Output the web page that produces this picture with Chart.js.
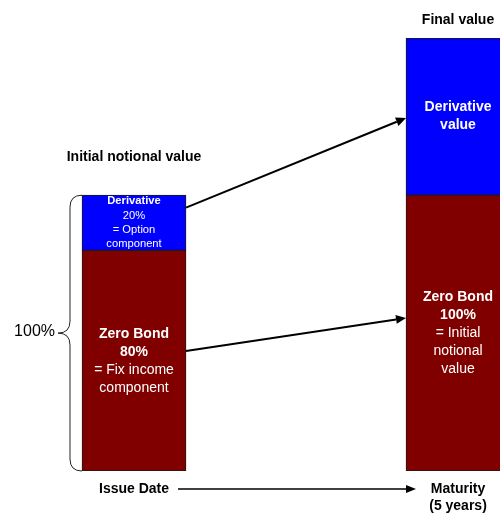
<!DOCTYPE html>
<html lang="en">
<head>
	<meta charset="utf-8">
	<title>Capital protected note</title>
	<style>
body {
	margin: 0;
	background: #fff;
}
	</style>
</head>
<body>
<canvas id="myChart" width="500" height="515"></canvas>

<script src="https://cdn.jsdelivr.net/npm/chart.js"></script>
<script>
// the two points in time
const categories = [['Issue Date'], ['Maturity', '(5 years)']];
const timePos = [0, 1];

// stacked components, in % of initial notional
const zeroBond = [80, 100];
const derivative = [20, 57];

const headings = ['Initial notional value', 'Final value'];

// text in each block; '**' = bold, {v} = the block's value
const zeroBondText = [
	['**Zero Bond', '**{v}%', '= Fix income', 'component'],
	['**Zero Bond', '**{v}%', '= Initial', 'notional', 'value']
];
const derivativeText = [
	['**Derivative', '{v}%', '= Option', 'component'],
	['**Derivative', '**value']
];

const FAMILY = '"Liberation Sans", Arial, sans-serif';
const font = (size, bold) => (bold ? 'bold ' : '') + size + 'px ' + FAMILY;

function arrow(ctx, x1, y1, x2, y2, width, len, half) {
	const a = Math.atan2(y2 - y1, x2 - x1);
	const bx = x2 - len * Math.cos(a), by = y2 - len * Math.sin(a);
	ctx.lineWidth = width;
	ctx.beginPath();
	ctx.moveTo(x1, y1);
	ctx.lineTo(bx, by);
	ctx.stroke();
	ctx.beginPath();
	ctx.moveTo(x2, y2);
	ctx.lineTo(bx + half * Math.sin(a), by - half * Math.cos(a));
	ctx.lineTo(bx - half * Math.sin(a), by + half * Math.cos(a));
	ctx.closePath();
	ctx.fill();
}

const overlay = {
	id: 'overlay',
	afterDatasetsDraw(chart) {
		const {ctx, scales: {x, y}, chartArea} = chart;
		ctx.save();
		ctx.textAlign = 'center';
		ctx.textBaseline = 'middle';

		// labels inside the blocks
		chart.data.datasets.forEach((ds, di) => {
			chart.getDatasetMeta(di).data.forEach((bar, i) => {
				const lines = ds.text[i];
				const top = Math.min(bar.y, bar.base), bot = Math.max(bar.y, bar.base);
				let k = Math.min(1, (bot - top - 6) / ((lines.length - 1) * 18 + 16));
				k = Math.max(k, 0.8);
				const step = 18 * k;
				let ly = (top + bot) / 2 - (lines.length - 1) * step / 2;
				ctx.fillStyle = '#fff';
				for (let l of lines) {
					const bold = l.startsWith('**');
					ctx.font = font(Math.round(14 * k * 10) / 10, bold);
					ctx.fillText(l.replace('**', '').replace('{v}', ds.data[i].y), bar.x, ly);
					ly += step;
				}
			});
		});

		const bars = chart.getDatasetMeta(0).data;
		const left = bars[0], right = bars[1];
		const lRight = left.x + left.width / 2;
		const rLeft = right.x - right.width / 2;

		// column headings
		ctx.fillStyle = '#000';
		ctx.font = font(14, true);
		const gaps = [38, 18];
		headings.forEach((h, i) => {
			const top = y.getPixelForValue(zeroBond[i] + derivative[i]);
			ctx.fillText(h, bars[i].x, top - gaps[i]);
		});

		// value transfer arrows
		ctx.strokeStyle = '#000';
		arrow(ctx, lRight, y.getPixelForValue(95.5), rLeft, y.getPixelForValue(128), 2, 10, 4.5);
		arrow(ctx, lRight, y.getPixelForValue(43.5), rLeft, y.getPixelForValue(55.5), 2, 10, 4.5);

		// time axis arrow
		const ty = chartArea.bottom + 18;
		arrow(ctx, x.getPixelForValue(timePos[0]) + 44, ty, x.getPixelForValue(timePos[1]) - 42, ty, 1.5, 10, 4);

		// brace over the initial notional
		const bx = left.x - left.width / 2;
		const top = y.getPixelForValue(zeroBond[0] + derivative[0]);
		const bot = y.getPixelForValue(0);
		const mid = (top + bot) / 2, mx = bx - 12, tx = bx - 24;
		ctx.lineWidth = 1;
		ctx.strokeStyle = '#222';
		ctx.beginPath();
		ctx.moveTo(bx, top);
		ctx.quadraticCurveTo(mx, top, mx, top + 12);
		ctx.lineTo(mx, mid - 12);
		ctx.quadraticCurveTo(mx, mid, tx, mid);
		ctx.quadraticCurveTo(mx, mid, mx, mid + 12);
		ctx.lineTo(mx, bot - 12);
		ctx.quadraticCurveTo(mx, bot, bx, bot);
		ctx.stroke();

		ctx.textAlign = 'right';
		ctx.font = font(16, false);
		ctx.fillText((zeroBond[0] + derivative[0]) + '%', tx - 3, mid - 2);
		ctx.restore();
	}
};

const ctx = document.getElementById('myChart');

new Chart(ctx, {
	type: 'bar',
	data: {
		datasets: [
			{
				label: 'Zero Bond',
				data: timePos.map((t, i) => ({x: t, y: zeroBond[i]})),
				text: zeroBondText,
				backgroundColor: '#800000'
			},
			{
				label: 'Derivative',
				data: timePos.map((t, i) => ({x: t, y: derivative[i]})),
				text: derivativeText,
				backgroundColor: '#0000ff'
			}
		]
	},
	options: {
		responsive: false,
		animation: false,
		devicePixelRatio: 1,
		barThickness: 104,
		borderWidth: 1,
		borderColor: '#1a1a1a',
		borderSkipped: false,
		layout: {
			padding: {top: 38, left: 0, right: 0, bottom: 0}
		},
		scales: {
			x: {
				type: 'linear',
				stacked: true,
				offset: false,
				min: -0.4136,
				max: 1.1296,
				grid: {display: false, drawTicks: false, offset: false},
				border: {display: false},
				afterBuildTicks: s => { s.ticks = timePos.map(v => ({value: v})); },
				afterFit: s => { s.height = 44; },
				ticks: {
					maxRotation: 0,
					padding: 10,
					color: '#000',
					font: {family: FAMILY, size: 14, weight: 'bold'},
					callback: (v, i) => categories[i]
				}
			},
			y: {
				display: false,
				stacked: true,
				min: 0,
				max: 157
			}
		},
		plugins: {
			legend: {display: false},
			tooltip: {enabled: false}
		}
	},
	plugins: [overlay]
});
</script>
</body>
</html>
